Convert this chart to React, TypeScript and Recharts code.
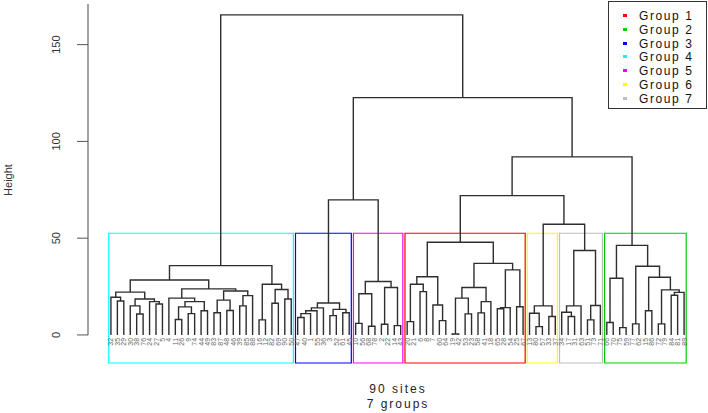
import React from "react";
import { ComposedChart, Line, Scatter, XAxis, YAxis, ReferenceArea, ReferenceLine } from "recharts";

// dendrogram nodes: [merge height, left, right]; a bare number is a site label
type Tree = number | [number, Tree, Tree];

const group1: Tree = [47.9,
  [30.1, [26.2, [6.9, 20, 21], [22.4, 6, 8]], [15.5, 7, [7.4, 60, 64]]],
  [37, [24.5, [19, [0.5, 19, 42], [10.9, 53, 23]], [17.2, [11.4, 58, 41], 18]],
    [33.6, [14.1, [13.5, 65, 28], 54], [14.6, 25, 67]]]];

const group2: Tree = [46.3,
  [29.3, [6.4, 66, 70], [3.8, 75, 59]],
  [35.5, [5.7, 77, 62], [29.8, [12.5, 15, 86], [23.3, [5.7, 72, 79], [22, [20.5, 84, 81], 89]]]]];

const group3: Tree = [16.5,
  [14, [12.5, [11, [9, 47, 40], 1], 55], 36],
  [13.2, [10, 3, 52], [11.5, 61, 45]]];

const group4: Tree = [35.8,
  [28.4,
    [22.1, [19.5, 32, [17.5, 35, 29]], [18.6, [15, 30, [10.8, 38, 76]], [17.2, 24, [16, 27, 5]]]],
    [23.8, [19, 4, [17.2, [14.5, [8, 11, 26], [11, 9, 74]], [12.5, 44, 49]]],
      [22.7, [18, [11.5, 83, 87], [12.6, 48, 46]], [20.3, [15, 39, 85], 88]]]],
  [26.2, [7.8, 16, 12], [23.5, [16.4, 82, 69], [18.6, 90, 50]]]];

const group5: Tree = [27.6, [21.3, [6, 10, 56], [4.5, 68, 78]], [24.5, [5.5, 2, 22], [4.8, 14, 43]]];

const group6: Tree = [15, [11.2, 13, [4.3, 80, 57]], [9.5, 33, 37]];

const group7: Tree = [43.6, [15, [11.7, 34, [9.5, 17, 31]], 63], [15.2, [7.8, 51, 73], 71]];

const fullTree: Tree = [165.4, group4,
  [122.6, [69.8, group3, group5], [92, [72, group1, [57.2, group6, group7]], group2]]];

const groupNames = ["Group 1", "Group 2", "Group 3", "Group 4", "Group 5", "Group 6", "Group 7"];
const groupColors = ["#FF0000", "#00CD00", "#0000FF", "#00FFFF", "#FF00FF", "#FFFF00", "#BEBEBE"];
const groupTrees = [group1, group2, group3, group4, group5, group6, group7];
const yTicks = [0, 50, 100, 150];
const bottomLines = ["90 sites", "7 groups"];

// layout the tree the way plot.hclust does
const segments: { x: number; y: number | null }[] = [];
const leaves: { x: number; y: number; label: number }[] = [];
const heights: number[] = [];
let leafCount = 0;
const layout = (t: Tree): { x: number; h: number } => {
  if (typeof t === "number") {
    leafCount += 1;
    leaves.push({ x: leafCount, y: 0, label: t });
    return { x: leafCount, h: 0 };
  }
  const [h, a, b] = t;
  const l = layout(a);
  const r = layout(b);
  heights.push(h);
  segments.push({ x: l.x, y: l.h }, { x: l.x, y: h }, { x: r.x, y: h }, { x: r.x, y: r.h }, { x: r.x, y: null });
  return { x: (l.x + r.x) / 2, h };
};
layout(fullTree);

const labelsOf = (t: Tree): number[] => (typeof t === "number" ? [t] : [...labelsOf(t[1]), ...labelsOf(t[2])]);
const sortedH = [...heights].sort((a, b) => b - a);
const cutHeight = (sortedH[5] + sortedH[6]) / 2;
const n = leaves.length;
const pad = (n - 1) * 0.04;
const yMin = -14.5;
const yMax = 171;

const boxes = groupTrees.map((t, i) => {
  const xs = labelsOf(t).map((lab) => leaves.find((lf) => lf.label === lab)!.x);
  return { x1: Math.min(...xs) - 0.34, x2: Math.max(...xs) + 0.33, color: groupColors[i] };
});

const YTick = ({ x, y, payload }: any) => (
  <g>
    <line x1={x - 11} x2={x} y1={y} y2={y} stroke="#555" />
    <text x={x - 32} y={y} transform={`rotate(-90, ${x - 32}, ${y})`} textAnchor="middle"
      dominantBaseline="central" fontSize={11} fill="#333">{payload.value}</text>
  </g>
);

const LeafLabel = (p: any) => (
  <text x={p.cx} y={p.cy + 3} transform={`rotate(-90, ${p.cx}, ${p.cy + 3})`} textAnchor="end"
    dominantBaseline="central" fontSize={7} fill="#666">{p.payload.label}</text>
);

export default function App() {
  return (
    <div style={{ position: "absolute", left: 0, top: 0, width: 708, height: 413, background: "#fff",
      fontFamily: "'Liberation Sans', Arial, sans-serif" }}>
      <ComposedChart width={708} height={413} margin={{ top: 4, right: 1, bottom: 50, left: 28 }}>
        <XAxis type="number" dataKey="x" domain={[1 - pad, n + pad]} hide allowDataOverflow />
        <YAxis type="number" dataKey="y" domain={[yMin, yMax]} ticks={yTicks} interval={0} width={60}
          axisLine={false} tickLine={false} tickSize={0} tickMargin={0} tick={<YTick />} allowDataOverflow />
        <ReferenceLine segment={[{ x: 1 - pad, y: 0 }, { x: 1 - pad, y: yMax }]} stroke="#666" strokeWidth={1.2} ifOverflow="visible" />
        {boxes.map((b, i) => (
          <ReferenceArea key={i} x1={b.x1} x2={b.x2} y1={yMin} y2={cutHeight} fill="none" fillOpacity={0}
            stroke={b.color} strokeWidth={1.2} ifOverflow="visible" />
        ))}
        <Line data={segments} dataKey="y" type="linear" stroke="#2e2e2e" strokeWidth={1.4} dot={false}
          activeDot={false} connectNulls={false} isAnimationActive={false} />
        <Scatter data={leaves} dataKey="y" shape={<LeafLabel />} isAnimationActive={false} />
      </ComposedChart>

      <div style={{ position: "absolute", left: 1, top: 180, transform: "translate(0, -50%) rotate(-90deg)",
        transformOrigin: "center", fontSize: 11, color: "#333", width: 14, textAlign: "center", whiteSpace: "nowrap", display: "flex", justifyContent: "center" }}>
        Height
      </div>

      {bottomLines.map((t, i) => (
        <div key={t} style={{ position: "absolute", left: 298, width: 200, top: 382 + i * 15, textAlign: "center",
          fontSize: 12, letterSpacing: 2, color: "#222", lineHeight: "15px" }}>{t}</div>
      ))}

      <div style={{ position: "absolute", left: 608, top: 1, width: 97, height: 106, border: "1px solid #333", background: "#fff" }}>
        {groupNames.map((g, i) => (
          <div key={g} style={{ position: "absolute", left: 0, top: 7 + i * 13.8, height: 14, width: 97 }}>
            <span style={{ position: "absolute", left: 14, top: 5, width: 4, height: 3, background: groupColors[i] }} />
            <span style={{ position: "absolute", left: 30, top: 0, fontSize: 12, letterSpacing: 1.6, color: "#111", lineHeight: "14px", whiteSpace: "nowrap" }}>{g}</span>
          </div>
        ))}
      </div>
    </div>
  );
}
